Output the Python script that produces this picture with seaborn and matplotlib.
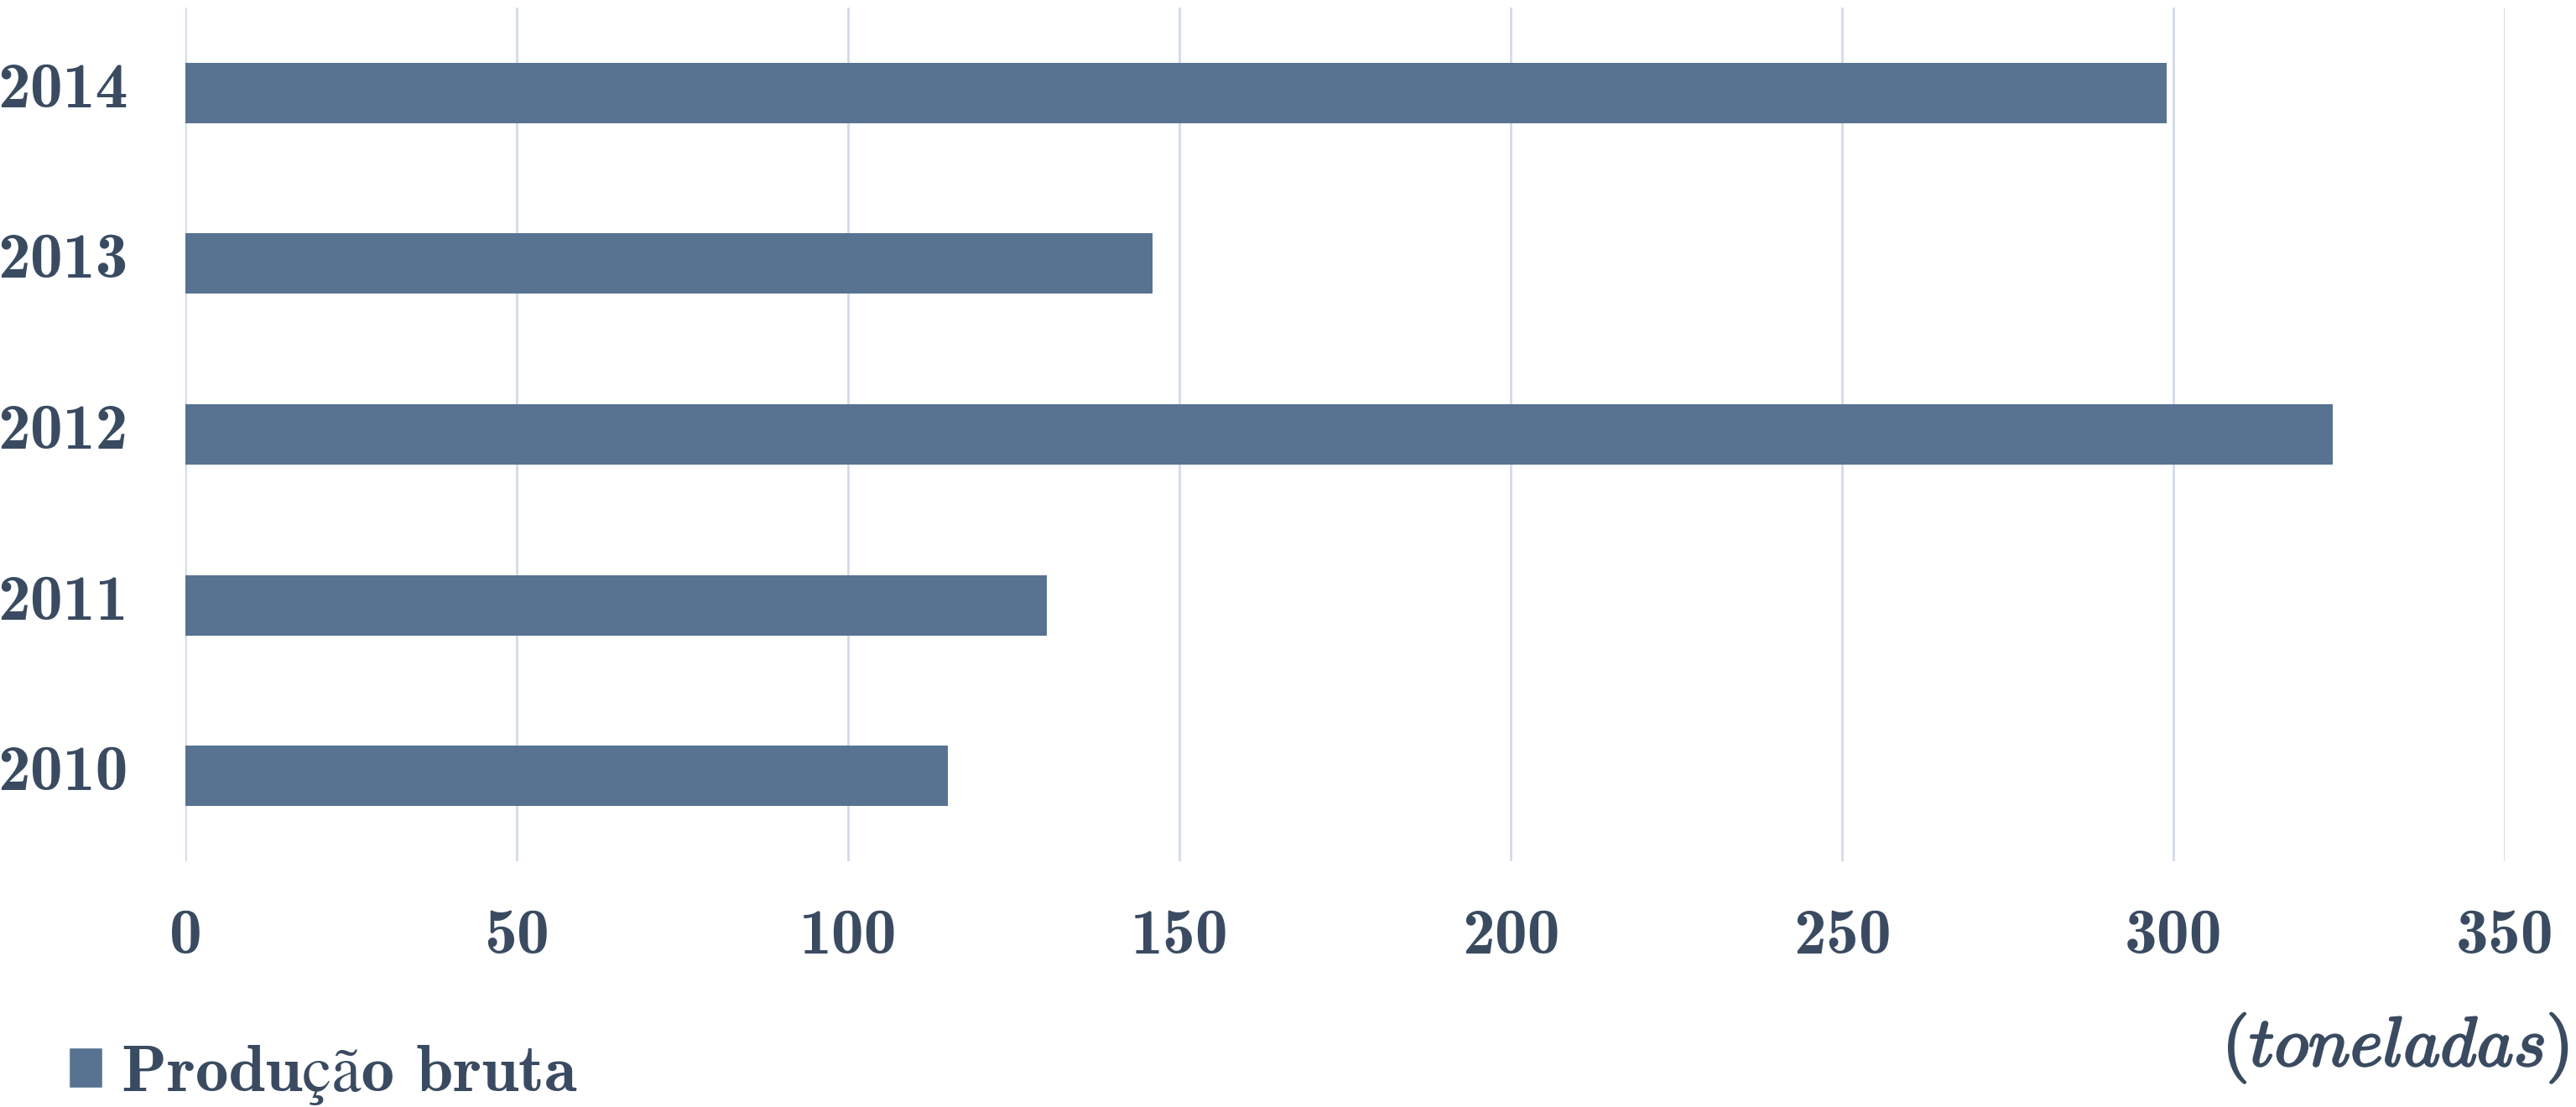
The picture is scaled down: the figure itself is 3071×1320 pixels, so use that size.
import matplotlib
matplotlib.use("Agg")
import matplotlib.pyplot as plt
import matplotlib.transforms as mtransforms
import matplotlib.patheffects as pe
import seaborn as sns
import pandas as pd
from matplotlib.patches import Patch

# dados (toneladas)
anos = ['2014', '2013', '2012', '2011', '2010']
producao = [299, 146, 324, 130, 115]
xticks = [0, 50, 100, 150, 200, 250, 300, 350]
serie = 'Produção bruta'
unidade = r'$(toneladas)$'

cor_barra = '#587392'
cor_texto = '#3a4b61'
cor_grade = '#d3dbe6'

sns.set_theme(style='white')
plt.rcParams['font.family'] = ['cmb10', 'STIXGeneral']
plt.rcParams['mathtext.fontset'] = 'cm'
plt.rcParams['axes.unicode_minus'] = False
plt.rcParams['axes.formatter.use_mathtext'] = False

df = pd.DataFrame({'ano': anos, 'producao': producao})

W, H = 3071, 1320
fig = plt.figure(figsize=(W / 100, H / 100), dpi=100)
ax = fig.add_axes([221 / W, 1 - 1027 / H, (2986 - 221) / W, (1027 - 9) / H])

sns.barplot(data=df, x='producao', y='ano', order=anos, color=cor_barra,
            saturation=1, width=0.353, linewidth=0, ax=ax)

ax.set_xlim(0, 350)
ax.set_ylim(4.5, -0.5)
ax.set_xticks(xticks)
ax.set_xticklabels([str(t) for t in xticks])
ax.grid(axis='x', color=cor_grade, linewidth=2)
ax.grid(axis='y', visible=False)
ax.set_axisbelow(True)
for s in ax.spines.values():
    s.set_visible(False)
ax.set_xlabel(None)
ax.set_ylabel(None)
ax.tick_params(axis='x', length=0, labelsize=56, labelcolor=cor_texto, pad=40)
ax.tick_params(axis='y', length=0, labelsize=56, labelcolor=cor_texto, pad=49)

# anos um pouco acima do centro da barra
sobe = mtransforms.ScaledTranslation(0, 10 / 100, fig.dpi_scale_trans)
for lbl in ax.get_yticklabels():
    lbl.set_transform(lbl.get_transform() + sobe)

# legenda
leg = fig.legend(handles=[Patch(facecolor=cor_barra, label=serie)],
                 loc='lower left', bbox_to_anchor=(82 / W, 2 / H),
                 frameon=False, fontsize=57, borderpad=0, borderaxespad=0,
                 handlelength=0.5, handleheight=0.55, handletextpad=0.3,
                 labelcolor=cor_texto)

fig.text(3062 / W, 1 - 1250 / H, unidade, ha='right', va='center',
         fontsize=60, color=cor_texto,
         path_effects=[pe.withStroke(linewidth=1.8, foreground=cor_texto)])

fig.savefig('out.png', dpi=100, facecolor='white')
